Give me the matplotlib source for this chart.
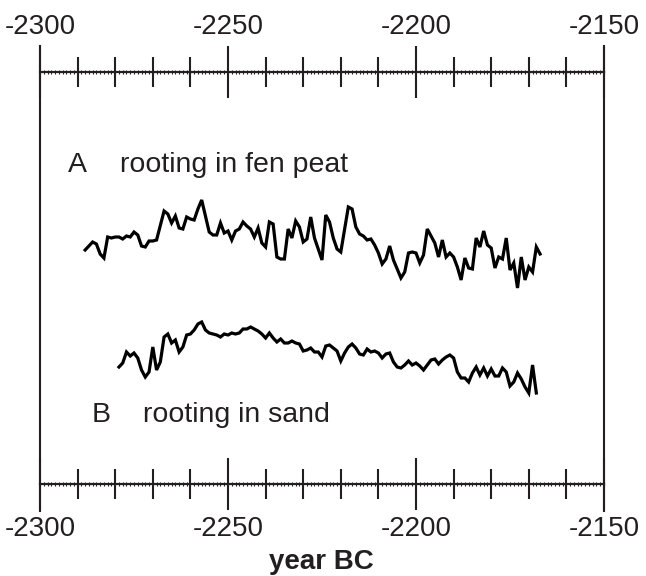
import matplotlib
matplotlib.use("Agg")
import matplotlib.pyplot as plt
from matplotlib.ticker import MultipleLocator
from typing import Tuple

plt.rcParams["font.family"] = ["Liberation Sans", "DejaVu Sans"]
plt.rcParams["axes.unicode_minus"] = False

INK = "#231f20"

# A: rooting in fen peat (relative ring-width index, arbitrary units)
years_a = [
    -2288, -2286, -2285, -2284, -2283, -2282, -2281, -2280, -2279, -2278,
    -2277, -2276, -2275, -2274, -2273, -2272, -2271, -2270, -2269, -2267,
    -2266, -2265, -2264, -2263, -2262, -2261, -2260, -2259, -2258, -2257,
    -2255, -2254, -2253, -2252, -2251, -2250, -2249, -2248, -2247, -2246,
    -2245, -2244, -2243, -2242, -2241, -2240, -2239, -2238, -2237, -2236,
    -2235, -2234, -2233, -2232, -2231, -2230, -2229, -2228, -2227, -2225,
    -2224, -2223, -2222, -2221, -2220, -2218, -2217, -2216, -2215, -2214,
    -2213, -2212, -2211, -2210, -2209, -2208, -2207, -2206, -2205, -2204,
    -2203, -2202, -2201, -2200, -2199, -2198, -2197, -2196, -2195, -2194,
    -2193, -2192, -2191, -2190, -2189, -2188, -2187, -2186, -2185, -2184,
    -2183, -2182, -2181, -2180, -2179, -2178, -2177, -2176, -2175, -2174,
    -2173, -2172, -2171, -2170, -2169, -2168, -2167,
]
values_a = [
    234, 242, 240, 230, 226, 247, 246, 247, 247, 245,
    248, 247, 252, 249, 238, 237, 243, 243, 244, 273,
    270, 261, 268, 256, 255, 267, 265, 264, 275, 284,
    252, 249, 249, 261, 251, 253, 244, 253, 255, 262,
    258, 255, 247, 256, 241, 237, 262, 260, 227, 225,
    225, 255, 246, 263, 257, 242, 245, 267, 246, 224,
    269, 262, 246, 235, 232, 277, 275, 257, 250, 248,
    244, 245, 239, 231, 220, 225, 238, 224, 215, 206,
    212, 231, 232, 231, 221, 229, 255, 248, 241, 227,
    244, 227, 231, 227, 217, 204, 226, 216, 215, 246,
    237, 253, 239, 236, 216, 227, 225, 246, 214, 221,
    196, 227, 204, 217, 212, 237, 230,
]

# B: rooting in sand
years_b = list(range(-2279, -2167))
values_b = [
    117, 121, 132, 128, 131, 126, 114, 107, 112, 137,
    114, 122, 147, 150, 141, 144, 132, 137, 149, 150,
    154, 160, 162, 154, 151, 150, 149, 147, 150, 149,
    151, 150, 151, 155, 155, 157, 155, 153, 150, 146,
    151, 146, 142, 145, 141, 141, 143, 141, 140, 133,
    134, 136, 132, 132, 127, 138, 139, 136, 133, 123,
    131, 137, 140, 136, 130, 129, 135, 132, 133, 131,
    126, 130, 131, 122, 117, 116, 119, 123, 119, 121,
    118, 114, 119, 124, 125, 120, 124, 127, 129, 126,
    112, 106, 106, 102, 111, 117, 109, 116, 108, 115,
    108, 108, 116, 112, 98, 102, 111, 105, 97, 91,
    119, 91,
]

X_RANGE = (-2300, -2150)
Y_RANGE = (-27, 438)
TOP_LINE = 412
BOTTOM_LINE = 0


def make_figure() -> Tuple[plt.Figure, plt.Axes]:
    fig = plt.figure(figsize=(6.46, 5.76), dpi=100)
    ax = fig.add_axes([40 / 646, 65 / 576, 564 / 646, 465 / 576])
    return fig, ax


def setup_axes(ax: plt.Axes) -> None:
    ax.set_xlim(*X_RANGE)
    ax.set_ylim(*Y_RANGE)
    ax.set_yticks([])
    for side in ("left", "right"):
        ax.spines[side].set_linewidth(1.5)
        ax.spines[side].set_color(INK)
    ax.spines["top"].set_position(("data", TOP_LINE))
    ax.spines["bottom"].set_position(("data", BOTTOM_LINE))
    for side in ("top", "bottom"):
        ax.spines[side].set_linewidth(1.5)
        ax.spines[side].set_color(INK)


def setup_ticks(ax: plt.Axes) -> None:
    ax.xaxis.set_major_locator(MultipleLocator(50))
    ax.xaxis.set_minor_locator(MultipleLocator(10))
    ax.xaxis.set_ticks_position("both")
    ax.tick_params(
        axis="x", which="major", direction="inout", length=38, width=1.5,
        color=INK, labelsize=20, labelcolor=INK, pad=4,
        labeltop=True, labelbottom=True,
    )
    ax.tick_params(
        axis="x", which="minor", direction="inout", length=21, width=1.5,
        color=INK,
    )

    # yearly ticks along both horizontal axis lines
    for loc in (TOP_LINE, BOTTOM_LINE):
        sec = ax.secondary_xaxis(loc, transform=ax.transData)
        sec.xaxis.set_major_locator(MultipleLocator(1))
        sec.tick_params(
            axis="x", which="major", direction="inout", length=3,
            width=0.8, color=INK, labeltop=False, labelbottom=False,
        )
        for sp in sec.spines.values():
            sp.set_linewidth(1.5)
            sp.set_color(INK)


def add_series(ax: plt.Axes) -> None:
    ax.plot(years_a, values_a, color="black", lw=2.3, solid_joinstyle="miter")
    ax.plot(years_b, values_b, color="black", lw=2.3, solid_joinstyle="miter")


def add_labels(fig: plt.Figure, ax: plt.Axes) -> None:
    kw = dict(fontsize=20.5, color=INK, va="baseline", ha="left")
    ax.text(-2292.6, 312, "A", **kw)
    ax.text(-2278.7, 312, "rooting in fen peat", **kw)
    ax.text(-2286.2, 62, "B", **kw)
    ax.text(-2272.6, 62, "rooting in sand", **kw)
    fig.text(321 / 646, 1 / 576, "year BC", fontsize=20,
             fontweight="bold", color=INK, ha="center", va="bottom")


def entry_point() -> None:
    fig, ax = make_figure()
    setup_axes(ax)
    setup_ticks(ax)
    add_series(ax)
    add_labels(fig, ax)
    fig.savefig("out.png", dpi=100)


if __name__ == "__main__":
    entry_point()
